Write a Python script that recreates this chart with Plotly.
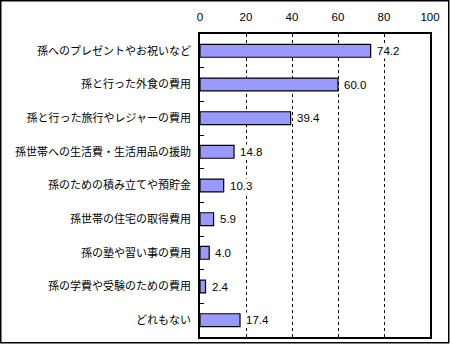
import plotly.graph_objects as go

categories = [
    "孫へのプレゼントやお祝いなど",
    "孫と行った外食の費用",
    "孫と行った旅行やレジャーの費用",
    "孫世帯への生活費・生活用品の援助",
    "孫のための積み立てや預貯金",
    "孫世帯の住宅の取得費用",
    "孫の塾や習い事の費用",
    "孫の学費や受験のための費用",
    "どれもない",
]
values = [74.2, 60.0, 39.4, 14.8, 10.3, 5.9, 4.0, 2.4, 17.4]
x_ticks = [0, 20, 40, 60, 80, 100]

FONT = "Liberation Sans, Noto Sans CJK JP, sans-serif"
JP_FONT = "Noto Sans CJK JP, sans-serif"

W, H = 450, 344
L, R, T, B = 200, 20, 34, 7

fig = go.Figure(
    go.Bar(
        y=categories,
        x=values,
        orientation="h",
        marker=dict(color="#9999FF", line=dict(color="black", width=1.2)),
        width=0.38,
    )
)

# value labels on a white box so the dashed grid does not run through them
for cat, val in zip(categories, values):
    fig.add_annotation(
        x=val,
        y=cat,
        xref="x",
        yref="y",
        text=f"{val:.1f}",
        showarrow=False,
        xanchor="left",
        yanchor="middle",
        xshift=4,
        bgcolor="white",
        borderpad=1,
        font=dict(family=FONT, size=11.5, color="black"),
    )

fig.update_layout(
    width=W,
    height=H,
    margin=dict(l=L, r=R, t=T, b=B),
    paper_bgcolor="white",
    plot_bgcolor="white",
    showlegend=False,
    font=dict(family=FONT, size=11.5, color="black"),
    xaxis=dict(
        side="top",
        range=[0, 100],
        tickvals=x_ticks,
        ticktext=[str(v) for v in x_ticks],
        showgrid=True,
        gridcolor="black",
        griddash="3px,3px",
        gridwidth=1,
        showline=True,
        linecolor="black",
        linewidth=1.5,
        mirror=True,
        ticks="",
        ticklabelstandoff=7,
        zeroline=False,
        automargin=False,
        fixedrange=True,
    ),
    yaxis=dict(
        categoryorder="array",
        categoryarray=categories,
        autorange="reversed",
        showline=True,
        linecolor="black",
        linewidth=1.5,
        mirror=True,
        ticks="inside",
        tickson="boundaries",
        ticklen=4,
        tickcolor="black",
        ticklabelstandoff=5,
        tickfont=dict(family=JP_FONT, size=11),
        showgrid=False,
        automargin=False,
        fixedrange=True,
    ),
)

# frame around the whole figure
pw = W - L - R
ph = H - T - B
fig.add_shape(
    type="rect",
    xref="paper",
    yref="paper",
    x0=(0.75 - L) / pw,
    x1=(W - 1.25 - L) / pw,
    y0=-(B - 1.25) / ph,
    y1=1 + (T - 0.75) / ph,
    line=dict(color="black", width=1.5),
    fillcolor="rgba(0,0,0,0)",
    layer="above",
)

fig.write_html("out.html")
